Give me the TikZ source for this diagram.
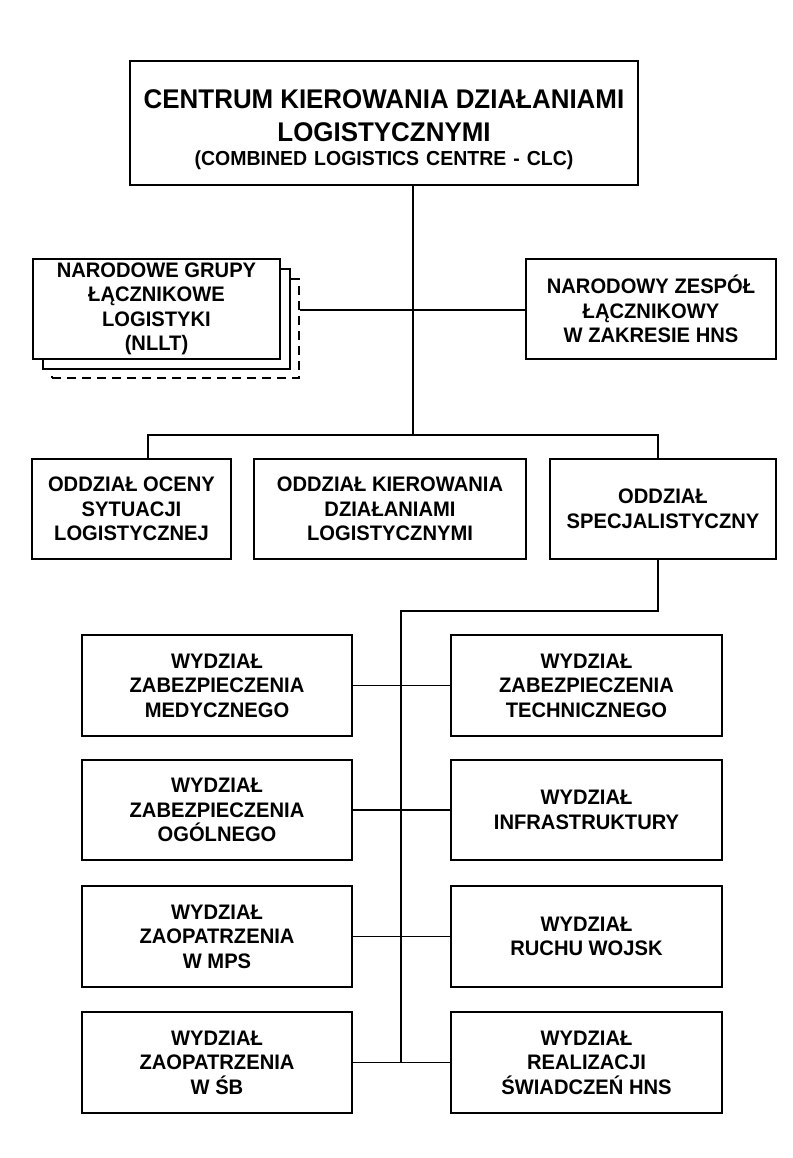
\documentclass[tikz,border=0pt]{standalone}
\usepackage{fontspec}
\setmainfont{Liberation Sans}[FakeStretch=0.96]
\begin{document}
\begin{tikzpicture}[x=1pt,y=-1pt,
  box/.style={draw=black, line width=1.5pt, fill=white, inner sep=0pt, align=center,
    font=\fontsize{21}{24.5}\selectfont\bfseries},
  conn/.style={draw=black, line width=1.1pt}]
\useasboundingbox (0,0) rectangle (792,1158);
\fill[white] (0,0) rectangle (792,1158);

% top box
\node[box, line width=2.6pt, minimum width=508pt, minimum height=124pt, text width=500pt] (clc) at (384,123)
 {\fontsize{27}{33}\selectfont\rule{0pt}{32pt}CENTRUM KIEROWANIA DZIAŁANIAMI\\LOGISTYCZNYMI\\[0pt]
  \fontsize{20.3}{24}\selectfont (COMBINED LOGISTICS CENTRE - CLC)};

% NLLT stacked boxes
\node[box, dashed, dash pattern=on 9pt off 6pt, minimum width=247pt, minimum height=99pt] (nllt3) at (175.5,328.5) {};
\node[box, minimum width=247pt, minimum height=100pt] (nllt2) at (166.5,319) {};
\node[box, minimum width=247pt, minimum height=100pt] (nllt) at (156.5,309)
 {NARODOWE GRUPY\\ŁĄCZNIKOWE\\LOGISTYKI\\(NLLT)};

\node[box, minimum width=250pt, minimum height=100pt] (hns) at (651,309)
 {NARODOWY ZESPÓŁ\\ŁĄCZNIKOWY\\W ZAKRESIE HNS};

% second level
\node[box, minimum width=199pt, minimum height=100pt] (osl) at (131.5,509)
 {ODDZIAŁ OCENY\\SYTUACJI\\LOGISTYCZNEJ};
\node[box, minimum width=272pt, minimum height=100pt] (okd) at (390,509)
 {ODDZIAŁ KIEROWANIA\\DZIAŁANIAMI\\LOGISTYCZNYMI};
\node[box, minimum width=226pt, minimum height=100pt] (osp) at (663,509)
 {ODDZIAŁ\\SPECJALISTYCZNY};

% third level
\node[box, minimum width=270pt, minimum height=101pt] (w1l) at (217,685.5)
 {WYDZIAŁ\\ZABEZPIECZENIA\\MEDYCZNEGO};
\node[box, minimum width=271pt, minimum height=101pt] (w1r) at (586.5,685.5)
 {WYDZIAŁ\\ZABEZPIECZENIA\\TECHNICZNEGO};
\node[box, minimum width=270pt, minimum height=100pt] (w2l) at (217,810)
 {WYDZIAŁ\\ZABEZPIECZENIA\\OGÓLNEGO};
\node[box, minimum width=271pt, minimum height=100pt] (w2r) at (586.5,810)
 {WYDZIAŁ\\INFRASTRUKTURY};
\node[box, minimum width=270pt, minimum height=101pt] (w3l) at (217,936.5)
 {WYDZIAŁ\\ZAOPATRZENIA\\W MPS};
\node[box, minimum width=271pt, minimum height=101pt] (w3r) at (586.5,936.5)
 {WYDZIAŁ\\RUCHU WOJSK};
\node[box, minimum width=270pt, minimum height=101pt] (w4l) at (217,1062.5)
 {WYDZIAŁ\\ZAOPATRZENIA\\W ŚB};
\node[box, minimum width=271pt, minimum height=101pt] (w4r) at (586.5,1062.5)
 {WYDZIAŁ\\REALIZACJI\\ŚWIADCZEŃ HNS};

% connectors
\coordinate (top) at (413,435);
\coordinate (hl) at (148,435);
\coordinate (hr) at (658,435);
\coordinate (mid) at (413,310);
\coordinate (sp) at (658,611);
\coordinate (sv) at (401,611);
\coordinate (sb) at (401,1063);

\draw[conn] (clc.south -| top) -- (top);
\draw[conn] (osl.north -| hl) -- (hl) -- (hr) -- (osp.north -| hr);
\draw[conn] (nllt3.east |- mid) -- (hns.west |- mid);
\draw[conn] (osp.south -| sp) -- (sp) -- (sv) -- (sb);
\draw[conn] (w1l.east) -- (w1r.west);
\draw[conn] (w2l.east) -- (w2r.west);
\draw[conn] (w3l.east) -- (w3r.west);
\draw[conn] (w4l.east) -- (w4r.west);
\end{tikzpicture}
\end{document}
